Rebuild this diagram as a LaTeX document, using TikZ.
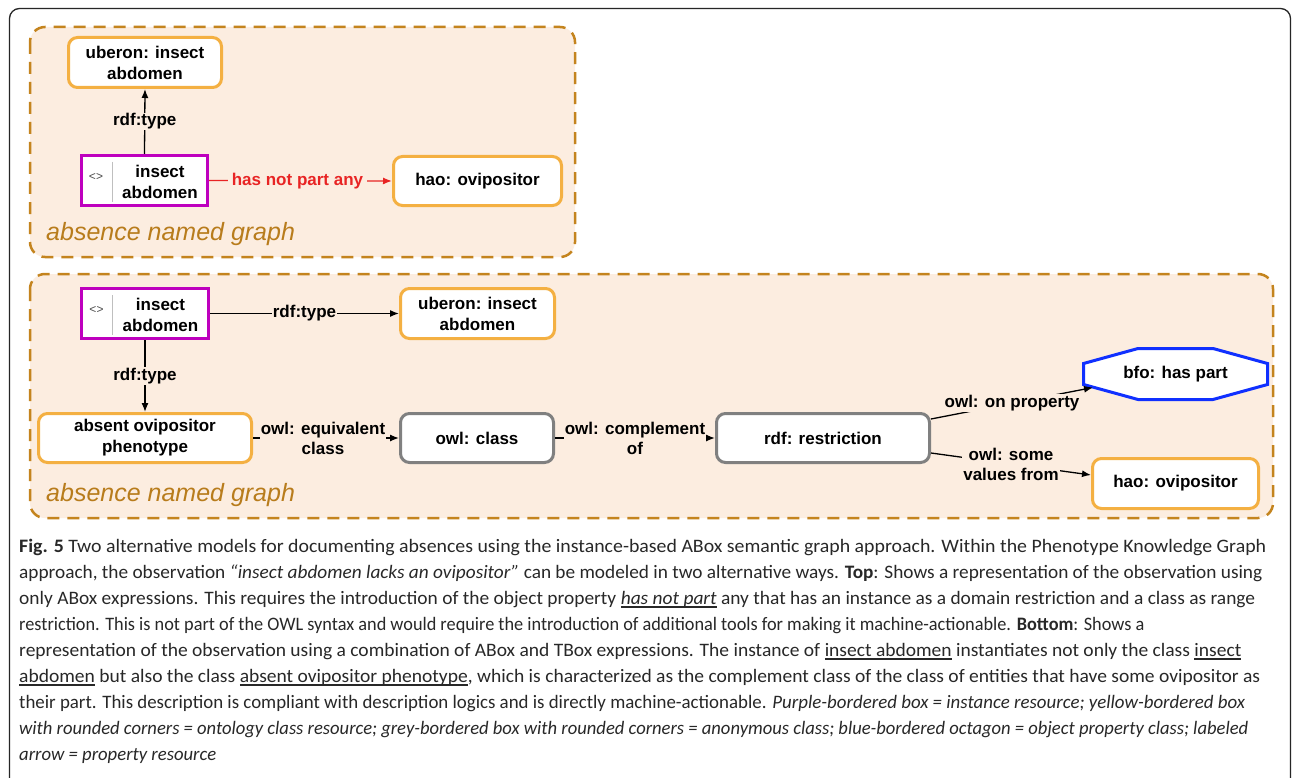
\documentclass[tikz,border=0pt]{standalone}
\usepackage{fontspec}
\usepackage{graphicx}
\usetikzlibrary{arrows.meta,calc}
\setmainfont{Carlito}
\newfontfamily\diagfont{Liberation Sans}
\definecolor{panelfill}{RGB}{252,237,224}
\definecolor{paneldash}{RGB}{196,132,30}
\definecolor{graphtxt}{RGB}{184,124,28}
\definecolor{ycol}{RGB}{244,176,66}
\definecolor{pcol}{RGB}{190,0,190}
\definecolor{gcol}{RGB}{128,128,128}
\definecolor{bcol}{RGB}{16,48,255}
\definecolor{redc}{RGB}{232,36,36}
\definecolor{capcol}{RGB}{40,40,40}
\newcommand\myul[1]{\setbox0\hbox{#1}\rlap{\rule[-3.6pt]{\wd0}{1.9pt}}\box0\relax}
\begin{document}
\begin{tikzpicture}[x=1pt,y=-1pt,
  boxfont/.style={font=\diagfont\bfseries\fontsize{17}{21}\selectfont, align=center},
  box/.style={boxfont, draw, line width=3pt, rounded corners=9pt, fill=white, inner sep=0pt},
  ybox/.style={box, draw=ycol},
  gbox/.style={box, draw=gcol},
  pbox/.style={box, draw=pcol, rounded corners=0pt},
  lbl/.style={font=\diagfont\bfseries\fontsize{17}{20}\selectfont, align=center, fill=panelfill, inner xsep=1pt, inner ysep=1pt, text=black},
  arr/.style={line width=1.3pt, -{Latex[length=9pt,width=7pt]}},
  panel/.style={draw=paneldash, fill=panelfill, line width=2.5pt, dash pattern=on 12pt off 8pt, rounded corners=15pt},
  graphlbl/.style={font=\diagfont\itshape\fontsize{25}{30}\selectfont, text=graphtxt, anchor=base west, inner sep=0pt},
  sym/.style={font=\diagfont\fontsize{12}{14}\selectfont, text=black!70, inner sep=0pt},
  capline/.style={font=\fontsize{19}{26}\selectfont, text=capcol, anchor=base west, inner sep=0pt}
]
\useasboundingbox (0,0) rectangle (1292,778);
\fill[white] (0,0) rectangle (1292,778);
% outer frame
\draw[line width=1.3pt, black!85, rounded corners=10pt] (9.5,800) -- (9.5,8.5) -- (1290.5,8.5) -- (1290.5,800);

% ===== top panel =====
\draw[panel] (30,27) rectangle (575,257);
\node[ybox, minimum width=153, minimum height=50] (uberon1) at (145,62.5) {uberon: insect\\abdomen};
\node[pbox, minimum width=126, minimum height=50] (inst1) at (144.5,180.5) {};
\node[sym] (inst1sym) at ($(inst1.center)+(-48.5,-3)$) {<>};
\draw[black!25, line width=1pt] ($(inst1.center)+(-32.5,-18.5)$) -- ($(inst1.center)+(-32.5,21.5)$);
\node[boxfont, inner sep=0pt] (inst1txt) at ($(inst1.center)+(15.5,1.5)$) {insect\\abdomen};
\node[ybox, minimum width=168, minimum height=49] (hao1) at (477.5,181) {hao: ovipositor};
\draw[arr] (inst1.north) -- node[lbl] (l1) {rdf:type} (uberon1.south);
\draw[arr, draw=redc] (inst1.east) -- node[lbl, text=redc, xshift=-3pt, inner xsep=4pt] (l2) {has not part any} (hao1.west);
\node[graphlbl] (g1) at (46,240) {absence named graph};

% ===== bottom panel =====
\draw[panel] (30,274) rectangle (1273,518);
\node[pbox, minimum width=127, minimum height=50] (inst2) at (145,313.5) {};
\node[sym] (inst2sym) at ($(inst2.center)+(-48.5,-3)$) {<>};
\draw[black!25, line width=1pt] ($(inst2.center)+(-32.5,-18.5)$) -- ($(inst2.center)+(-32.5,21.5)$);
\node[boxfont, inner sep=0pt] (inst2txt) at ($(inst2.center)+(15.5,1.5)$) {insect\\abdomen};
\node[ybox, minimum width=154, minimum height=50] (uberon2) at (477.5,313.5) {uberon: insect\\abdomen};
\node[ybox, minimum width=213, minimum height=49] (absent) at (145,438) {absent ovipositor\\phenotype};
\node[gbox, minimum width=153, minimum height=49] (owlclass) at (477,438) {owl: class};
\node[gbox, minimum width=213, minimum height=49] (restr) at (823,438) {rdf: restriction};
\coordinate (bfoc) at (1175.5,374);
\draw[draw=bcol, line width=3pt, fill=white, line join=miter]
  ($(bfoc)+(-92,-10.5)$) -- ($(bfoc)+(-37.5,-25.5)$) -- ($(bfoc)+(37.5,-25.5)$) -- ($(bfoc)+(92,-10.5)$)
  -- ($(bfoc)+(92,10.5)$) -- ($(bfoc)+(37.5,25.5)$) -- ($(bfoc)+(-37.5,25.5)$) -- ($(bfoc)+(-92,10.5)$) -- cycle;
\node[boxfont, inner sep=0pt] (bfo) at (bfoc) {bfo: has part};
\coordinate (bfoin) at ($(bfoc)+(-82.5,13.5)$);
\node[ybox, minimum width=166, minimum height=50] (hao2) at (1175.5,483.5) {hao: ovipositor};

\draw[arr] (inst2.east) -- node[lbl] (l3) {rdf:type} (uberon2.west);
\draw[arr] (inst2.south) -- node[lbl] (l4) {rdf:type} (absent.north);
\draw[arr] (absent.east) -- node[lbl, xshift=-3pt] (l5) {owl: equivalent\\class} (owlclass.west);
\draw[arr] (owlclass.east) -- node[lbl] (l6) {owl: complement\\of} (restr.west);
\draw[arr] ($(restr.east)+(0,-19)$) -- node[lbl] (l7) {owl: on property} (bfoin);
\draw[arr] ($(restr.east)+(0,15)$) -- node[lbl] (l8) {owl: some\\values from} ($(hao2.west)+(0,-8.5)$);
\node[graphlbl] (g2) at (46,501) {absence named graph};

% ===== caption =====
\node[capline] (c1) at (19,552) {\resizebox{1247pt}{\height}{\textbf{Fig. 5} Two alternative models for documenting absences using the instance-based ABox semantic graph approach. Within the Phenotype Knowledge Graph}};
\node[capline] (c2) at (19,578) {\resizebox{1243pt}{\height}{approach, the observation \textit{“insect abdomen lacks an ovipositor”} can be modeled in two alternative ways. \textbf{Top}: Shows a representation of the observation using}};
\node[capline] (c3) at (19,604) {\resizebox{1236pt}{\height}{only ABox expressions. This requires the introduction of the object property \myul{\textit{has not part}} any that has an instance as a domain restriction and a class as range}};
\node[capline] (c4) at (19,630) {\resizebox{1125pt}{\height}{restriction. This is not part of the OWL syntax and would require the introduction of additional tools for making it machine-actionable. \textbf{Bottom}: Shows a}};
\node[capline] (c5) at (19,656) {\resizebox{1222pt}{\height}{representation of the observation using a combination of ABox and TBox expressions. The instance of \myul{insect abdomen} instantiates not only the class \myul{insect}}};
\node[capline] (c6) at (19,682) {\resizebox{1241pt}{\height}{\myul{abdomen} but also the class \myul{absent ovipositor phenotype}, which is characterized as the complement class of the class of entities that have some ovipositor as}};
\node[capline] (c7) at (19,708) {\resizebox{1226pt}{\height}{their part. This description is compliant with description logics and is directly machine-actionable. \textit{Purple-bordered box = instance resource; yellow-bordered box}}};
\node[capline] (c8) at (19,734) {\resizebox{1229pt}{\height}{\textit{with rounded corners = ontology class resource; grey-bordered box with rounded corners = anonymous class; blue-bordered octagon = object property class; labeled}}};
\node[capline] (c9) at (19,760) {\resizebox{197pt}{\height}{\textit{arrow = property resource}}};
\end{tikzpicture}
\end{document}
